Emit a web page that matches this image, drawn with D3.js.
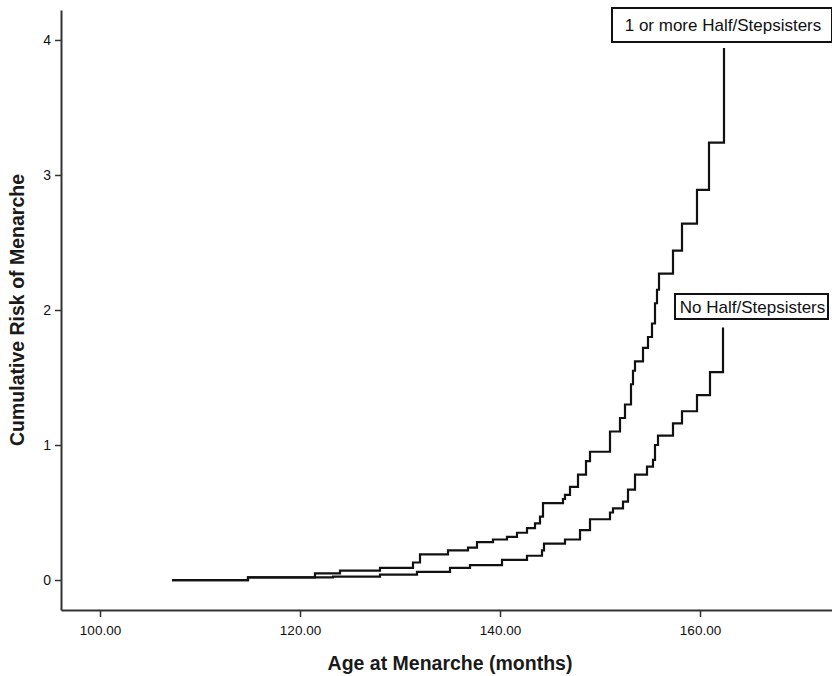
<!DOCTYPE html>
<meta charset="utf-8">
<style>
  body { margin: 0; background: #fff; }
  text { font-family: "Liberation Sans", Arial, sans-serif; }
</style>

<!-- Load d3.js -->
<script src="https://d3js.org/d3.v7.min.js"></script>

<div id="my_dataviz"></div>

<script>

// step points: age (months) and cumulative risk
var ageStep = [107.2, 114.8, 121.5, 124.0, 128.0, 131.3, 132.0, 134.8, 136.8, 137.7, 139.3, 140.7,
  141.7, 142.7, 143.5, 144.0, 144.3, 146.3, 146.5, 147.0, 147.8, 148.6, 149.0, 151.0, 152.0,
  152.5, 153.1, 153.3, 153.5, 154.3, 154.8, 155.2, 155.5, 155.7, 155.9, 157.3, 158.2, 159.7,
  160.9, 162.4];
var riskStep = [0.0, 0.02, 0.05, 0.07, 0.09, 0.13, 0.19, 0.22, 0.24, 0.28, 0.30, 0.32,
  0.35, 0.385, 0.42, 0.47, 0.57, 0.60, 0.63, 0.69, 0.78, 0.88, 0.95, 1.10, 1.20,
  1.30, 1.45, 1.55, 1.62, 1.72, 1.80, 1.90, 2.05, 2.15, 2.27, 2.44, 2.64, 2.89,
  3.24, 3.94];

var ageNone = [107.2, 114.8, 121.0, 123.3, 128.0, 131.7, 135.0, 137.0, 140.2, 142.7, 144.2,
  144.4, 146.5, 148.0, 149.0, 151.0, 151.3, 152.3, 152.8, 153.5, 154.7, 155.3, 155.5, 155.8,
  157.3, 158.2, 159.7, 161.0, 162.3];
var riskNone = [0.0, 0.02, 0.02, 0.025, 0.04, 0.06, 0.09, 0.11, 0.15, 0.18, 0.22,
  0.27, 0.30, 0.37, 0.45, 0.50, 0.53, 0.58, 0.67, 0.78, 0.84, 0.89, 1.00, 1.07,
  1.16, 1.25, 1.37, 1.54, 1.87];

var seriesNames = ["1 or more Half/Stepsisters", "No Half/Stepsisters"];
var xTicks = [100, 120, 140, 160];
var yTicks = [0, 1, 2, 3, 4];

var W = 832, H = 676;

var svg = d3.select("#my_dataviz")
  .append("svg")
    .attr("width", W)
    .attr("height", H);

// scales (plot area: x 61..832, y 10..610)
var x = d3.scaleLinear()
  .domain([96.1, 173.2])
  .range([61, 832]);

var y = d3.scaleLinear()
  .domain([-0.222, 4.222])
  .range([610, 10]);

// X axis
var xAxis = svg.append("g")
  .attr("transform", "translate(0,610)")
  .call(d3.axisBottom(x).tickValues(xTicks).tickSize(7).tickPadding(8)
    .tickFormat(d3.format(".2f")).tickSizeOuter(0));
xAxis.select(".domain").attr("stroke", "#333").attr("stroke-width", 2);
xAxis.selectAll(".tick line").attr("stroke", "#333").attr("stroke-width", 1.5);
xAxis.selectAll("text").attr("font-size", 13.5).attr("fill", "#111")
  .style("font-family", "'Liberation Sans', Arial, sans-serif");

// Y axis
var yAxis = svg.append("g")
  .attr("transform", "translate(61,0)")
  .call(d3.axisLeft(y).tickValues(yTicks).tickFormat(d3.format("d"))
    .tickSize(6).tickPadding(4).tickSizeOuter(0));
yAxis.select(".domain").attr("stroke", "#333").attr("stroke-width", 2);
yAxis.selectAll(".tick line").attr("stroke", "#333").attr("stroke-width", 1.5);
yAxis.selectAll("text").attr("font-size", 14).attr("fill", "#111")
  .style("font-family", "'Liberation Sans', Arial, sans-serif");

// axis titles
svg.append("text")
  .attr("x", 450)
  .attr("y", 670)
  .attr("text-anchor", "middle")
  .attr("font-size", 19.5)
  .attr("font-weight", "bold")
  .attr("fill", "#1a1a1a")
  .text("Age at Menarche (months)");

svg.append("text")
  .attr("transform", "translate(24,310) rotate(-90)")
  .attr("text-anchor", "middle")
  .attr("font-size", 19.5)
  .attr("font-weight", "bold")
  .attr("fill", "#1a1a1a")
  .text("Cumulative Risk of Menarche");

// step curves
var line = d3.line()
  .x(function(d) { return x(d[0]); })
  .y(function(d) { return y(d[1]); })
  .curve(d3.curveStepAfter);

var series = [d3.zip(ageStep, riskStep), d3.zip(ageNone, riskNone)];

svg.selectAll(".curve")
  .data(series)
  .enter()
  .append("path")
    .attr("class", "curve")
    .attr("d", line)
    .attr("fill", "none")
    .attr("stroke", "#111")
    .attr("stroke-width", 2.2);

// labels at the end of each curve
var labelPos = [
  {x0: 611, x1: 833, y0: 7, y1: 43},
  {x0: 674, x1: 829, y0: 293, y1: 320}
];

seriesNames.forEach(function(name, i) {
  var p = labelPos[i];
  var g = svg.append("g");
  g.append("rect")
    .attr("x", p.x0 + 1)
    .attr("y", p.y0 + 1)
    .attr("width", p.x1 - p.x0 - 2)
    .attr("height", p.y1 - p.y0 - 2)
    .attr("fill", "#fff")
    .attr("stroke", "#111")
    .attr("stroke-width", 2);
  g.append("text")
    .attr("x", (p.x0 + p.x1) / 2 + 1)
    .attr("y", (p.y0 + p.y1) / 2 + 6)
    .attr("text-anchor", "middle")
    .attr("font-size", 17)
    .attr("fill", "#111")
    .text(name);
});

</script>
